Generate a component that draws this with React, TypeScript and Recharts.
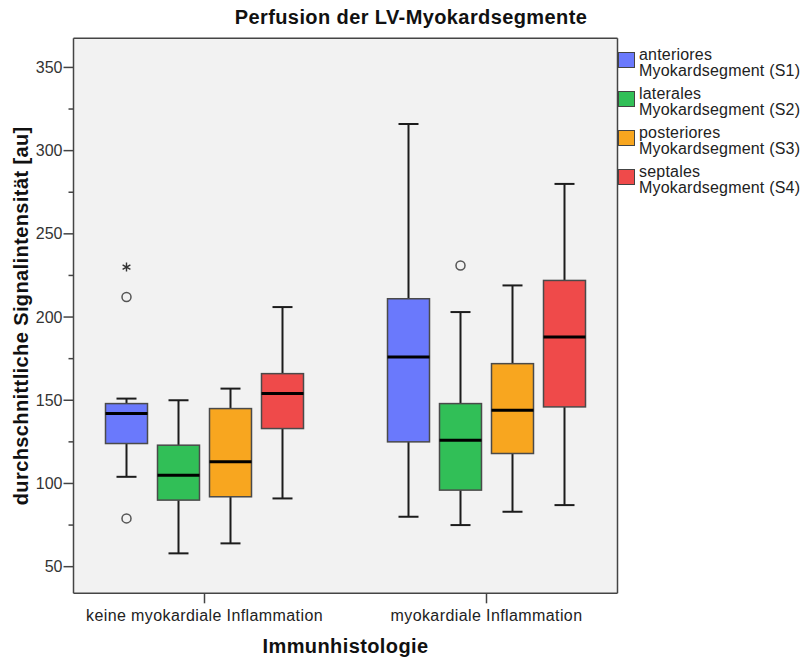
import React from 'react';
import { ComposedChart, Bar, XAxis, YAxis, CartesianGrid, Legend } from 'recharts';

const groups = ['keine myokardiale Inflammation', 'myokardiale Inflammation'];

// [lower whisker, Q1, median, Q3, upper whisker] per group
const anteriorS1 = [[104, 124, 142, 148, 151], [80, 125, 176, 211, 316]];
const lateralS2 = [[58, 90, 105, 123, 150], [75, 96, 126, 148, 203]];
const posteriorS3 = [[64, 92, 113, 145, 157], [83, 118, 144, 172, 219]];
const septalS4 = [[91, 133, 154, 166, 206], [87, 146, 188, 222, 280]];

// outliers (circle) and extreme values (star) per group
const anteriorOutliers = [[79, 212], []];
const anteriorExtremes = [[230], []];
const lateralOutliers = [[], [231]];
const noPoints = [[], []];

const yTicks = [50, 75, 100, 125, 150, 175, 200, 225, 250, 275, 300, 325, 350];

const FONT = '"Liberation Sans", Arial, sans-serif';

const series = [
  { key: 's1', label: ['anteriores', 'Myokardsegment (S1)'], color: '#6a79fc', stats: anteriorS1, outliers: anteriorOutliers, extremes: anteriorExtremes },
  { key: 's2', label: ['laterales', 'Myokardsegment (S2)'], color: '#31bf57', stats: lateralS2, outliers: lateralOutliers, extremes: noPoints },
  { key: 's3', label: ['posteriores', 'Myokardsegment (S3)'], color: '#f8a61f', stats: posteriorS3, outliers: noPoints, extremes: noPoints },
  { key: 's4', label: ['septales', 'Myokardsegment (S4)'], color: '#ef4a4a', stats: septalS4, outliers: noPoints, extremes: noPoints },
];

const rows = groups.map((group, i) => {
  const row: any = { group };
  series.forEach((s) => {
    row[s.key] = s.stats[i];
    row[s.key + 'Out'] = s.outliers[i];
    row[s.key + 'Ext'] = s.extremes[i];
  });
  return row;
});

// the bar spans whisker to whisker; everything else is placed on the same scale
const makeBox = (key: string, color: string) => (props: any) => {
  const { x, y, width, height, payload } = props;
  const [lo, q1, med, q3, hi] = payload[key];
  const k = height / (hi - lo);
  const py = (v: number) => y + (hi - v) * k;
  const cx = x + width / 2;
  const cap = 10;
  const whisker = { stroke: '#1c1c1c', strokeWidth: 2 };
  return (
    <g>
      <line x1={cx} x2={cx} y1={py(hi)} y2={py(q3)} {...whisker} />
      <line x1={cx} x2={cx} y1={py(q1)} y2={py(lo)} {...whisker} />
      <line x1={cx - cap} x2={cx + cap} y1={py(hi)} y2={py(hi)} {...whisker} />
      <line x1={cx - cap} x2={cx + cap} y1={py(lo)} y2={py(lo)} {...whisker} />
      <rect x={x} y={py(q3)} width={width} height={py(q1) - py(q3)} fill={color} stroke="#4a4a4a" strokeWidth={1.5} />
      <line x1={x} x2={x + width} y1={py(med)} y2={py(med)} stroke="#000" strokeWidth={3} />
      {payload[key + 'Out'].map((v: number, i: number) => (
        <circle key={'o' + i} cx={cx} cy={py(v)} r={4.5} fill="none" stroke="#555" strokeWidth={1.5} />
      ))}
      {payload[key + 'Ext'].map((v: number, i: number) => {
        const r = 4.5;
        const cy = py(v);
        const d = [90, 30, 150]
          .map((a) => {
            const dx = r * Math.cos((a * Math.PI) / 180);
            const dy = r * Math.sin((a * Math.PI) / 180);
            return `M${cx - dx},${cy - dy}L${cx + dx},${cy + dy}`;
          })
          .join('');
        return <path key={'e' + i} d={d} stroke="#333" strokeWidth={1.4} />;
      })}
    </g>
  );
};

const YTick = (props: any) => {
  const { x, y, payload } = props;
  const major = payload.value % 50 === 0;
  return (
    <g>
      <line x1={x - (major ? 10 : 5)} x2={x} y1={y} y2={y} stroke="#444" strokeWidth={1.5} />
      {major && (
        <text x={x - 11} y={y} dy="0.35em" textAnchor="end" fontSize={16} fontFamily={FONT} fill="#333">
          {payload.value}
        </text>
      )}
    </g>
  );
};

const XTick = (props: any) => {
  const { x, payload } = props;
  return (
    <text x={x} y={621} textAnchor="middle" fontSize={16} fontFamily={FONT} letterSpacing={0.4} fill="#222">
      {payload.value}
    </text>
  );
};

const YTitle = (props: any) => {
  const { viewBox } = props;
  const x = viewBox.x + 14.5;
  const y = viewBox.y + viewBox.height / 2;
  return (
    <text x={x} y={y} transform={`rotate(-90, ${x}, ${y})`} textAnchor="middle" fontSize={20} fontWeight="bold" fontFamily={FONT} letterSpacing={0.4} fill="#111">
      durchschnittliche Signalintensität [au]
    </text>
  );
};

const XTitle = (props: any) => {
  const { viewBox } = props;
  return (
    <text x={viewBox.x + viewBox.width / 2} y={viewBox.y + 60} textAnchor="middle" fontSize={20} fontWeight="bold" fontFamily={FONT} letterSpacing={0.4} fill="#111">
      Immunhistologie
    </text>
  );
};

const LegendBox = () => (
  <div style={{ fontFamily: FONT, fontSize: 16, letterSpacing: 0.2, color: '#222' }}>
    {series.map((s) => (
      <div key={s.key} style={{ display: 'flex', alignItems: 'flex-start', height: 39 }}>
        <div
          style={{
            width: 17,
            height: 16,
            boxSizing: 'border-box',
            background: s.color,
            border: '1px solid #444',
            marginLeft: 1,
            marginTop: 5.5,
            flex: 'none',
          }}
        />
        <div style={{ marginLeft: 4, lineHeight: '16.5px', whiteSpace: 'nowrap' }}>
          {s.label[0]}
          <br />
          {s.label[1]}
        </div>
      </div>
    ))}
  </div>
);

export default function App() {
  return (
    <div style={{ position: 'absolute', left: 0, top: 0, width: 808, height: 664, background: '#fff' }}>
      <div
        style={{
          position: 'absolute',
          left: 411,
          top: 6,
          transform: 'translateX(-50%)',
          whiteSpace: 'nowrap',
          fontFamily: FONT,
          fontSize: 20,
          fontWeight: 'bold',
          letterSpacing: 0.4,
          lineHeight: '22px',
          color: '#111',
        }}
      >
        Perfusion der LV-Myokardsegmente
      </div>
      <ComposedChart
        width={808}
        height={664}
        data={rows}
        margin={{ top: 37.3, right: 189.5, bottom: 30.7, left: 13.5 }}
        barSize={42}
        barGap={10}
      >
        <CartesianGrid fill="#f2f2f2" horizontal={false} vertical={false} />
        <XAxis
          dataKey="group"
          padding={{ left: -10, right: -10 }}
          height={40}
          tickSize={10}
          interval={0}
          axisLine={{ stroke: '#444', strokeWidth: 1.5 }}
          tickLine={{ stroke: '#444', strokeWidth: 1.5 }}
          tick={<XTick />}
          label={<XTitle />}
        />
        <XAxis xAxisId="frame" orientation="top" dataKey="group" height={1} tick={false} tickLine={false} axisLine={{ stroke: '#444', strokeWidth: 1.5 }} />
        <YAxis
          domain={[34, 367.5]}
          ticks={yTicks}
          interval={0}
          width={60}
          tickSize={0}
          tickMargin={0}
          tickLine={false}
          axisLine={{ stroke: '#444', strokeWidth: 1.5 }}
          tick={<YTick />}
          label={<YTitle />}
        />
        <YAxis yAxisId="frame" orientation="right" width={1} tick={false} tickLine={false} axisLine={{ stroke: '#444', strokeWidth: 1.5 }} />
        {series.map((s) => (
          <Bar
            key={s.key}
            dataKey={(row: any) => [row[s.key][0], row[s.key][4]]}
            fill={s.color}
            shape={makeBox(s.key, s.color)}
            isAnimationActive={false}
          />
        ))}
        <Legend
          layout="vertical"
          align="center"
          verticalAlign="middle"
          content={<LegendBox />}
          wrapperStyle={{ left: 617, top: 46.5, width: 191 }}
        />
      </ComposedChart>
    </div>
  );
}
